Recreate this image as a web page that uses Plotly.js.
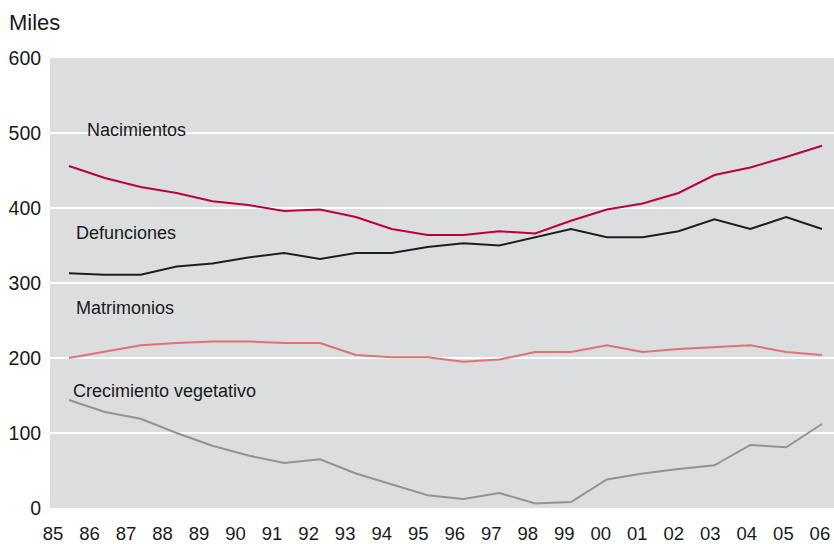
<!DOCTYPE html>
<html>
<head>
<meta charset="utf-8">
<script src="https://cdn.plot.ly/plotly-3.0.1.min.js"></script>
<style>html,body{margin:0;padding:0;background:#fff;}#chart{width:834px;height:544px;}</style>
</head>
<body>
<div id="chart"></div>
<script>
// ---- data ----
const years = [1985,1986,1987,1988,1989,1990,1991,1992,1993,1994,1995,1996,1997,1998,1999,2000,2001,2002,2003,2004,2005,2006];
const yearLabels = ['85','86','87','88','89','90','91','92','93','94','95','96','97','98','99','00','01','02','03','04','05','06'];
const nacimientos = [456,440,428,420,409,404,396,398,388,372,364,364,369,366,383,398,406,420,444,454,468,483];
const defunciones = [313,311,311,322,326,334,340,332,340,340,348,353,350,361,372,361,361,369,385,372,388,372];
const matrimonios = [200,209,217,220,222,222,220,220,204,201,201,195,198,208,208,217,208,212,214,217,208,204];
const crecimiento = [144,128,119,100,83,70,60,65,46,32,17,12,20,6,8,38,46,52,57,84,81,112];
const seriesNames = ['Nacimientos','Defunciones','Matrimonios','Crecimiento vegetativo'];
const yTicks = [0,100,200,300,400,500,600];

// ---- styling ----
const colors = ['#bc003b','#1f1f1f','#e07272','#939393'];
const labelFont = {family:'"Liberation Sans", Arial, sans-serif', size:18, color:'#1a1a1a'};
const yTickFont = {family:'"Liberation Sans", Arial, sans-serif', size:19.5, color:'#1a1a1a'};
const xTickFont = {family:'"Liberation Sans", Arial, sans-serif', size:18.5, color:'#1a1a1a'};

const seriesData = [nacimientos, defunciones, matrimonios, crecimiento];
const traces = seriesData.map((vals,i)=>({
  x: years, y: vals, type:'scatter', mode:'lines', name: seriesNames[i],
  line:{color: colors[i], width:2}, hoverinfo:'skip', showlegend:false
}));
// dummy trace to carry the tick-label axis
traces.push({x: years, y: years.map(()=>null), xaxis:'x2', yaxis:'y', type:'scatter', mode:'lines', hoverinfo:'skip', showlegend:false});

const labelPos = [
  {x:1985.44, y:504},
  {x:1985.14, y:367},
  {x:1985.14, y:266.5},
  {x:1985.05, y:156.5}
];
const annotations = seriesNames.map((t,i)=>({
  text:t, x:labelPos[i].x, y:labelPos[i].y, xref:'x', yref:'y',
  xanchor:'left', yanchor:'middle', showarrow:false, font:labelFont
}));
annotations.push({text:'Miles', xref:'paper', yref:'paper', x:-0.0545, y:1.078, xanchor:'left', yanchor:'middle', showarrow:false,
  font:{family:'"Liberation Sans", Arial, sans-serif', size:22, color:'#1a1a1a'}});

const layout = {
  width:834, height:544,
  margin:{l:50, r:0, t:58, b:36, pad:0},
  paper_bgcolor:'#ffffff', plot_bgcolor:'#dcdddf',
  xaxis:{range:[1984.470, 2006.335], showgrid:false, zeroline:false, showticklabels:false, ticks:'', showline:false, fixedrange:true},
  xaxis2:{range:[1984.918, 2006.386], overlaying:'x', anchor:'y', side:'bottom', tickmode:'array', tickvals:years, ticktext:yearLabels,
    showgrid:false, zeroline:false, showline:false, ticks:'outside', ticklen:9, tickcolor:'rgba(0,0,0,0)', tickfont:xTickFont},
  yaxis:{range:[0,600], tickmode:'array', tickvals:yTicks, ticktext:yTicks.map(String), showgrid:true, gridcolor:'#ffffff', gridwidth:2,
    zeroline:false, showline:false, ticks:'outside', ticklen:4, tickcolor:'rgba(0,0,0,0)', tickfont:yTickFont},
  annotations: annotations,
  showlegend:false
};
Plotly.newPlot('chart', traces, layout, {staticPlot:true, displayModeBar:false});
</script>
</body>
</html>
